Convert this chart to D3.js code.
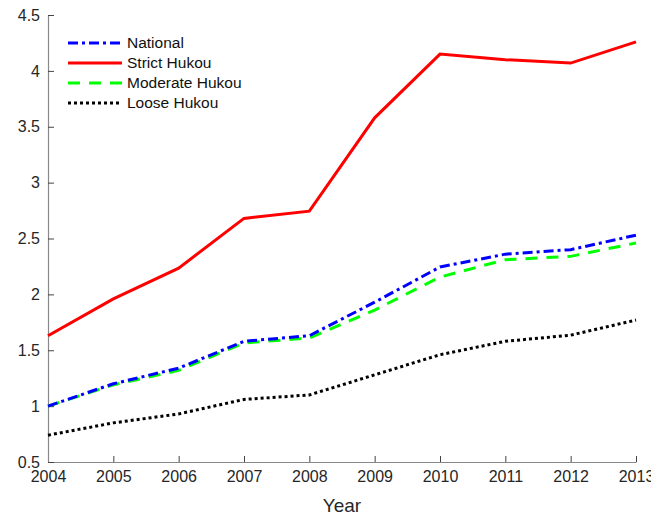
<!DOCTYPE html>
<html>
<head>
<meta charset="utf-8">
<script src="https://cdn.jsdelivr.net/npm/d3@7"></script>
<style>
  html, body { margin: 0; padding: 0; background: #fff; }
  svg { display: block; font-family: "Liberation Sans", Arial, Helvetica, sans-serif; }
</style>
</head>
<body>
<svg id="chart" width="651" height="517"></svg>
<script>
// Index values by year and hukou regime
const years = [2004, 2005, 2006, 2007, 2008, 2009, 2010, 2011, 2012, 2013];
const national = [1.00, 1.20, 1.34, 1.58, 1.63, 1.93, 2.245, 2.36, 2.40, 2.53];
const strict   = [1.63, 1.96, 2.235, 2.68, 2.745, 3.58, 4.15, 4.10, 4.07, 4.26];
const moderate = [1.00, 1.19, 1.32, 1.565, 1.61, 1.86, 2.155, 2.31, 2.34, 2.46];
const loose    = [0.74, 0.85, 0.93, 1.06, 1.10, 1.28, 1.46, 1.58, 1.635, 1.77];
const yTicks = [0.5, 1, 1.5, 2, 2.5, 3, 3.5, 4, 4.5];
const seriesNames = ["National", "Strict Hukou", "Moderate Hukou", "Loose Hukou"];

const series = [
  { name: seriesNames[0], values: national, color: "#0000ff", dash: "10,4,3,4" },
  { name: seriesNames[1], values: strict,   color: "#ff0000", dash: null },
  { name: seriesNames[2], values: moderate, color: "#00ff00", dash: "12,9" },
  { name: seriesNames[3], values: loose,    color: "#000000", dash: "3,3" }
];

const svg = d3.select("#chart");
const margin = { left: 48, right: 15, top: 15, bottom: 55 };
const W = 651, H = 517;

const x = d3.scaleLinear().domain([2004, 2013]).range([margin.left, W - margin.right]);
const y = d3.scaleLinear().domain([0.5, 4.5]).range([H - margin.bottom, margin.top]);

// Axes with inward ticks
const xAxis = d3.axisBottom(x).tickValues(years).tickFormat(d3.format("d")).tickSizeInner(-6).tickSizeOuter(0).tickPadding(7);
const yAxis = d3.axisLeft(y).tickValues(yTicks).tickFormat(d => String(d)).tickSizeInner(-6).tickSizeOuter(0).tickPadding(8);

const gx = svg.append("g").attr("transform", `translate(0,${y(0.5)})`).call(xAxis);
const gy = svg.append("g").attr("transform", `translate(${x(2004)},0)`).call(yAxis);

[gx, gy].forEach(g => {
  g.select(".domain").attr("stroke", "#888").attr("stroke-width", 1.2);
  g.selectAll(".tick line").attr("stroke", "#444").attr("stroke-width", 1);
  g.selectAll(".tick text").attr("fill", "#262626").style("font-size", "16px");
});
gx.selectAll(".tick text").attr("dy", "0.8em");

svg.append("text")
  .attr("x", x(2008.5))
  .attr("y", 512)
  .attr("text-anchor", "middle")
  .attr("fill", "#262626")
  .style("font-size", "19px")
  .text("Year");

const line = d3.line().x((d, i) => x(years[i])).y(d => y(d));

// Draw bottom-to-top so national sits above moderate
const drawOrder = [series[1], series[3], series[2], series[0]];
svg.append("g").selectAll("path")
  .data(drawOrder)
  .join("path")
  .attr("d", d => line(d.values))
  .attr("fill", "none")
  .attr("stroke", d => d.color)
  .attr("stroke-width", 3)
  .attr("stroke-dasharray", d => d.dash);

// Legend
const legend = svg.append("g").attr("transform", "translate(68,43)");
const rows = legend.selectAll("g").data(series).join("g")
  .attr("transform", (d, i) => `translate(0,${i * 20})`);
rows.append("line")
  .attr("x1", 0).attr("x2", 54).attr("y1", 0).attr("y2", 0)
  .attr("stroke", d => d.color)
  .attr("stroke-width", 3)
  .attr("stroke-dasharray", d => d.dash);
rows.append("text")
  .attr("x", 59).attr("y", 0).attr("dy", "0.35em")
  .attr("fill", "#111")
  .style("font-size", "15.5px")
  .text(d => d.name);
</script>
</body>
</html>
